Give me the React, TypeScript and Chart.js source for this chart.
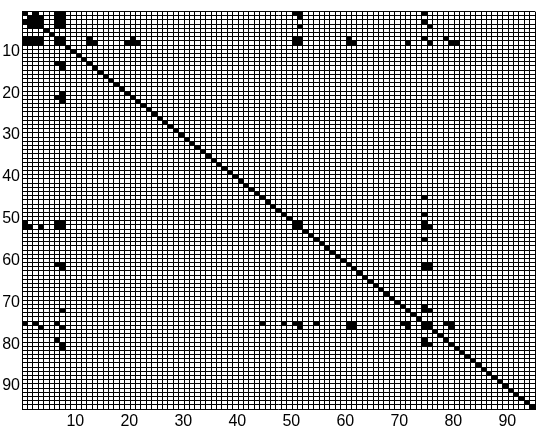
import React, { useEffect, useRef } from "react";
import { Chart, registerables } from "chart.js";

Chart.register(...registerables);

// Sparsity pattern of a 95 x 95 structurally symmetric matrix
const matrixSize = 95;
const tickValues = [10, 20, 30, 40, 50, 60, 70, 80, 90];

// Every diagonal entry is nonzero
const diagonalIndices = [
  1, 2, 3, 4, 5, 6, 7, 8, 9, 10, 11, 12, 13, 14, 15, 16, 17, 18, 19, 20,
  21, 22, 23, 24, 25, 26, 27, 28, 29, 30, 31, 32, 33, 34, 35, 36, 37, 38, 39, 40,
  41, 42, 43, 44, 45, 46, 47, 48, 49, 50, 51, 52, 53, 54, 55, 56, 57, 58, 59, 60,
  61, 62, 63, 64, 65, 66, 67, 68, 69, 70, 71, 72, 73, 74, 75, 76, 77, 78, 79, 80,
  81, 82, 83, 84, 85, 86, 87, 88, 89, 90, 91, 92, 93, 94, 95,
];

// Off-diagonal nonzeros of the upper triangle (row < col); mirrored below the diagonal
const upperRows = [
  1, 2, 2, 3,
  1, 1, 2, 2, 3, 3, 4, 4,
  1, 1, 2, 4,
  1, 3, 4,
  7,
  7, 8, 8,
  7, 8, 8, 8,
  7, 7, 8, 8,
  7, 8, 8,
  8,
  7, 8,
  7, 8, 8,
  51,
  45, 49, 51, 52, 52, 55,
  61, 61, 62, 62,
  71, 72, 72,
  75,
  75, 75, 76,
];
const upperCols = [
  3, 3, 4, 4,
  7, 8, 7, 8, 7, 8, 7, 8,
  51, 52, 52, 52,
  75, 75, 76,
  8,
  13, 13, 14,
  21, 20, 21, 22,
  51, 52, 51, 52,
  61, 61, 62,
  72,
  75, 76,
  79, 80, 81,
  52,
  75, 75, 75, 75, 76, 75,
  75, 76, 75, 76,
  75, 75, 76,
  76,
  79, 80, 80,
];

const fontSpec = { family: "'Liberation Sans', Arial, Helvetica, sans-serif", size: 16 };

export default function App() {
  const canvasRef = useRef<HTMLCanvasElement | null>(null);

  useEffect(() => {
    document.body.style.margin = "0";
    const canvas = canvasRef.current;
    if (!canvas) return;

    const points: { x: number; y: number }[] = [];
    diagonalIndices.forEach((i) => points.push({ x: i, y: i }));
    upperRows.forEach((r, k) => {
      const c = upperCols[k];
      points.push({ x: c, y: r });
      points.push({ x: r, y: c });
    });

    const boundaries: number[] = [];
    for (let b = 0.5; b <= matrixSize + 0.5; b += 1) boundaries.push(b);

    const cellPlugin = {
      id: "spyCells",
      afterDatasetsDraw(chart: any) {
        const { ctx } = chart;
        const xs = chart.scales.x;
        const ys = chart.scales.y;
        ctx.save();
        ctx.fillStyle = "#000";
        (chart.data.datasets[0].data as { x: number; y: number }[]).forEach((p) => {
          const l = xs.getPixelForValue(p.x - 0.5);
          const r = xs.getPixelForValue(p.x + 0.5);
          const t = ys.getPixelForValue(p.y - 0.5);
          const b = ys.getPixelForValue(p.y + 0.5);
          const x0 = Math.round(Math.min(l, r) - 0.5);
          const x1 = Math.round(Math.max(l, r) - 0.5) + 1;
          const y0 = Math.round(Math.min(t, b) - 0.5);
          const y1 = Math.round(Math.max(t, b) - 0.5) + 1;
          ctx.fillRect(x0, y0, x1 - x0, y1 - y0);
        });
        ctx.restore();
      },
    };

    const chart = new Chart(canvas, {
      type: "scatter",
      data: {
        datasets: [
          {
            data: points,
            pointRadius: 0,
            pointHoverRadius: 0,
            showLine: false,
          },
        ],
      },
      options: {
        animation: false,
        responsive: false,
        events: [],
        layout: { padding: { top: 5, right: 5, left: 0, bottom: 0 } },
        plugins: { legend: { display: false }, tooltip: { enabled: false } },
        scales: {
          x: {
            type: "linear",
            position: "bottom",
            min: 0.5,
            max: matrixSize + 0.5,
            afterBuildTicks: (s: any) => {
              s.ticks = tickValues.map((v) => ({ value: v }));
            },
            afterFit: (s: any) => {
              s.height = 21;
            },
            grid: { display: false, drawTicks: false },
            border: { display: false },
            ticks: { color: "#000", font: fontSpec, padding: 3, maxRotation: 0, autoSkip: false, labelOffset: 2 },
          },
          xg: {
            type: "linear",
            position: "bottom",
            min: 0.5,
            max: matrixSize + 0.5,
            afterBuildTicks: (s: any) => {
              s.ticks = boundaries.map((v) => ({ value: v }));
            },
            afterFit: (s: any) => {
              s.height = 0;
            },
            grid: { color: "#000", lineWidth: 1, drawTicks: false },
            border: { display: false },
            ticks: { display: false },
          },
          y: {
            type: "linear",
            position: "left",
            reverse: true,
            min: 0.5,
            max: matrixSize + 0.5,
            afterBuildTicks: (s: any) => {
              s.ticks = tickValues.map((v) => ({ value: v }));
            },
            afterFit: (s: any) => {
              s.width = 22;
            },
            grid: { display: false, drawTicks: false },
            border: { display: false },
            ticks: { color: "#000", font: fontSpec, padding: 2, autoSkip: false },
          },
          yg: {
            type: "linear",
            position: "left",
            reverse: true,
            min: 0.5,
            max: matrixSize + 0.5,
            afterBuildTicks: (s: any) => {
              s.ticks = boundaries.map((v) => ({ value: v }));
            },
            afterFit: (s: any) => {
              s.width = 0;
            },
            grid: { color: "#000", lineWidth: 1, drawTicks: false },
            border: { display: false },
            ticks: { display: false },
          },
        },
      } as any,
      plugins: [cellPlugin],
    });

    return () => chart.destroy();
  }, []);

  return (
    <div style={{ position: "absolute", left: 0, top: 0, width: 540, height: 430 }}>
      <canvas ref={canvasRef} width={540} height={430} />
    </div>
  );
}
